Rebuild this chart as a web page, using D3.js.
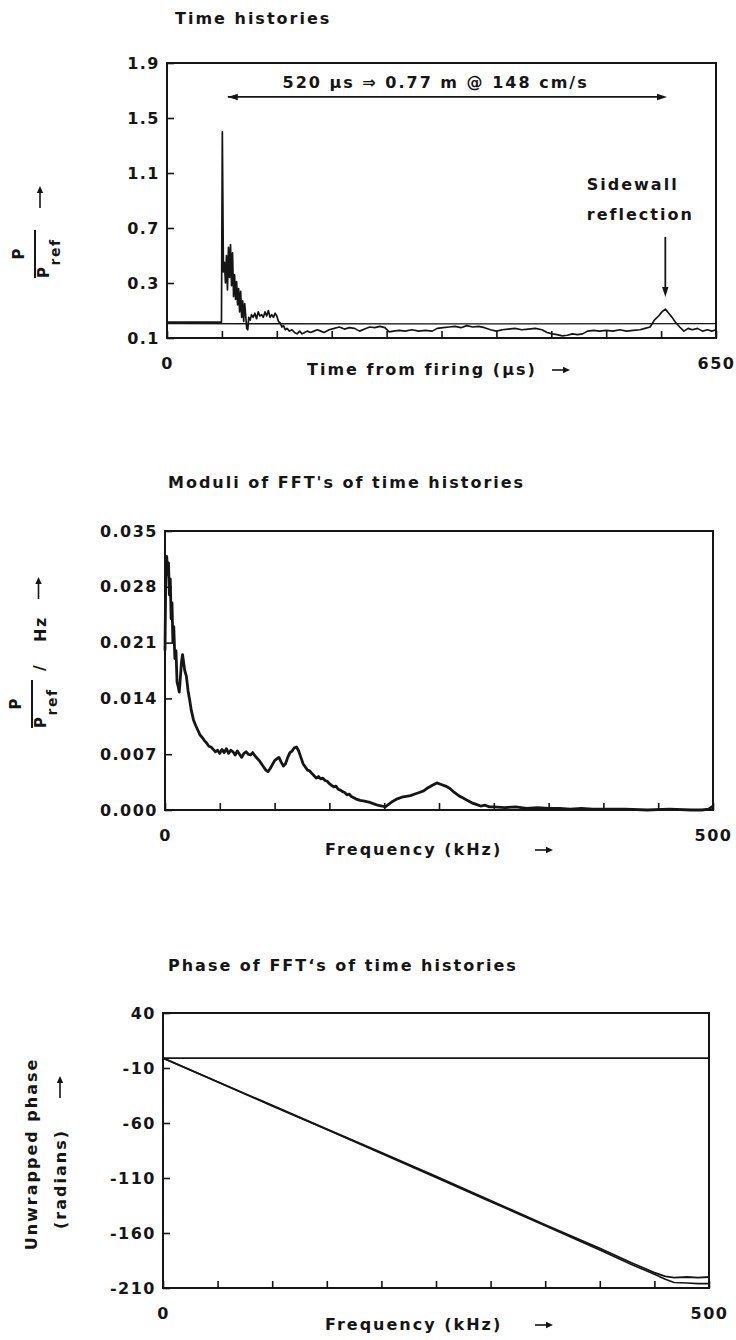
<!DOCTYPE html>
<html>
<head>
<meta charset="utf-8">
<script src="https://cdn.jsdelivr.net/npm/d3@7"></script>
<style>
  body { margin: 0; background: #fff; }
  svg text { font-family: "DejaVu Sans", sans-serif; font-weight: bold; fill: #151515; }
</style>
</head>
<body>
<svg id="chart" width="736" height="1340"></svg>
<script>
// ---- data ----

// Time histories (µs vs p/pref); bottom tick is printed "0.1" in the original
const timeTicks = [0, 65, 130, 195, 260, 325, 390, 455, 520, 585, 650];
const timeTickLabels = ["0", "", "", "", "", "", "", "", "", "", "650"];
const ratioTicks = [-0.1, 0.3, 0.7, 1.1, 1.5, 1.9];
const ratioTickLabels = ["0.1", "0.3", "0.7", "1.1", "1.5", "1.9"];

const timeA = [0, 64.5, 65.5, 66.8, 68, 69.2, 70.4, 71.6, 72.8, 74, 75.2, 76.4, 77.6, 78.8, 80, 81.2,
  82.4, 83.6, 84.8, 86, 87.2, 88.4, 89.6, 90.8, 92, 93.2, 94.4, 95.6, 96.8, 98.5, 100, 102, 104, 106,
  108, 110, 112, 114, 116, 118, 120, 122, 124, 126, 128, 130, 132, 134, 136, 138, 140, 142, 145, 148,
  151, 154, 157, 160, 163, 166, 170, 174, 178, 182, 186, 192, 198, 204, 210, 216, 222, 228, 234, 240,
  246, 252, 258, 263, 268, 275, 282, 290, 298, 306, 314, 320, 327, 334, 341, 348, 355, 362, 369, 376,
  383, 390, 397, 404, 412, 420, 428, 436, 444, 450, 456, 462, 468, 474, 480, 486, 492, 498, 505, 512,
  520, 528, 536, 544, 552, 560, 566, 572, 577, 582, 586, 590, 594, 598, 602, 607, 612, 617, 622, 628,
  634, 640, 645, 650];
const ratioA = [0.016, 0.016, 1.40, 0.38, 0.45, 0.30, 0.50, 0.25, 0.56, 0.34, 0.58, 0.28, 0.52, 0.20, 0.36, 0.18,
  0.31, 0.14, 0.26, 0.09, 0.24, 0.05, 0.17, 0.02, 0.15, 0.06, -0.03, -0.04, 0.05, 0.03, 0.07, 0.05, 0.08, 0.04,
  0.09, 0.06, 0.07, 0.05, 0.09, 0.06, 0.10, 0.05, 0.07, 0.05, 0.08, 0.06, 0.02, 0.01, -0.02, -0.01, -0.04, -0.03, -0.05, -0.04,
  -0.06, -0.07, -0.05, -0.07, -0.06, -0.05, -0.06, -0.05, -0.04, -0.05, -0.06, -0.04, -0.03, -0.02, -0.035, -0.025, -0.03, -0.05, -0.035, -0.02,
  -0.025, -0.015, -0.025, -0.055, -0.05, -0.045, -0.05, -0.04, -0.05, -0.045, -0.05, -0.03, -0.025, -0.02, -0.015, -0.025, -0.01, -0.02, -0.015, -0.025,
  -0.04, -0.05, -0.04, -0.035, -0.03, -0.04, -0.035, -0.03, -0.04, -0.06, -0.07, -0.075, -0.085, -0.08, -0.07, -0.075, -0.07, -0.05, -0.045, -0.05,
  -0.045, -0.05, -0.04, -0.05, -0.045, -0.04, -0.03, -0.02, 0.03, 0.06, 0.09, 0.11, 0.08, 0.05, 0.015, -0.02, -0.05, -0.03, -0.04, -0.03,
  -0.05, -0.04, -0.05, -0.04];
const timeB = [0, 325, 650];
const ratioB = [0.004, 0.003, 0.004];

// Moduli of FFTs (kHz vs p/pref/Hz)
const freqTicks = [0, 50, 100, 150, 200, 250, 300, 350, 400, 450, 500];
const freqTickLabels = ["0", "", "", "", "", "", "", "", "", "", "500"];
const modTicks = [0, 0.007, 0.014, 0.021, 0.028, 0.035];
const modTickLabels = ["0.000", "0.007", "0.014", "0.021", "0.028", "0.035"];

const freqMod = [0, 0.8, 1.6, 2.4, 3.2, 4, 4.8, 5.6, 6.4, 7.2, 8, 9, 10, 11, 12, 13, 14, 15, 16, 17, 18, 19.5,
  21, 22.5, 24, 26, 28, 30, 32, 34, 36, 38, 40, 42, 44, 46, 48, 50, 52, 54, 56, 58, 60, 62, 64, 66, 68,
  70, 72, 74, 76, 78, 80, 82, 84, 86, 88, 90, 92, 94, 96, 98, 100, 102, 104, 106, 108, 110, 112, 114,
  116, 118, 120, 122, 124, 126, 128, 130, 132, 134, 136, 138, 140, 142, 144, 146, 148, 150, 152, 154,
  156, 158, 160, 162, 164, 166, 168, 170, 174, 178, 182, 186, 190, 194, 198, 201, 204, 208, 212, 216,
  220, 224, 228, 232, 236, 240, 244, 248, 252, 256, 260, 264, 268, 272, 276, 280, 284, 288, 292, 296,
  300, 310, 320, 330, 340, 350, 360, 370, 380, 390, 400, 420, 440, 460, 480, 490, 496, 500];
const modulus = [0.020, 0.0305, 0.0318, 0.0295, 0.031, 0.027, 0.029, 0.024, 0.026, 0.021, 0.023, 0.019, 0.020,
  0.016, 0.0155, 0.0148, 0.0165, 0.0185, 0.0195, 0.0185, 0.0175, 0.0168,
  0.0150, 0.0138, 0.0125, 0.0113, 0.0106, 0.0100, 0.0094, 0.0091, 0.0087, 0.0084, 0.0080, 0.0079, 0.0076, 0.0073,
  0.0075, 0.0071, 0.0076, 0.0072, 0.0077, 0.0071, 0.0075, 0.0073, 0.0069, 0.0074, 0.0070,
  0.0066, 0.0071, 0.0073, 0.0070, 0.0069, 0.0072, 0.0068, 0.0065, 0.0062, 0.0058, 0.0054, 0.0050, 0.0048, 0.0052,
  0.0057, 0.0062, 0.0064, 0.0066, 0.0060, 0.0055, 0.0058, 0.0066, 0.0072,
  0.0074, 0.0078, 0.0079, 0.0074, 0.0066, 0.0058, 0.0054, 0.0050, 0.0049, 0.0046, 0.0043, 0.0040, 0.0042, 0.0039,
  0.0040, 0.0037, 0.0036, 0.0033, 0.0031, 0.0029,
  0.0030, 0.0026, 0.0025, 0.0023, 0.0022, 0.0019, 0.0020, 0.0017, 0.0014, 0.0012, 0.0011, 0.0010, 0.0008, 0.0006,
  0.0005, 0.0004, 0.0007, 0.0011, 0.0014, 0.0016,
  0.0017, 0.0018, 0.0020, 0.0022, 0.0024, 0.0028, 0.0031, 0.0034, 0.0032, 0.0030, 0.0027, 0.0022, 0.0018, 0.0015,
  0.0012, 0.0009, 0.0007, 0.0005, 0.0006, 0.0004,
  0.0004, 0.0003, 0.0004, 0.0002, 0.0003, 0.0002, 0.0002, 0.0001, 0.0002, 0.0001, 0.0001, 0.0001, 0.0000, 0.0001,
  0.0000, 0.0000, 0.0001, 0.0005];

// Phase of FFTs (kHz vs radians)
const phaseTicks = [-210, -160, -110, -60, -10, 40];
const phaseTickLabels = ["-210", "-160", "-110", "-60", "-10", "40"];
const freqPhase = [0, 50, 100, 150, 200, 250, 300, 350, 400, 430, 450, 460, 468, 480, 490, 500];
const phaseA = [-1, -22.5, -44, -65.5, -87, -108.5, -130.5, -152.5, -174, -187.5, -196, -199.5, -200.5, -200, -200.5, -200];
const phaseB = [-1, -22.8, -44.5, -66, -87.8, -109.5, -131.5, -153.5, -175.5, -189, -197.5, -202, -205, -205.5, -206, -206];
const freqFlat = [0, 500];
const phaseFlat = [-1, -1];

// ---- drawing ----
const INK = "#151515";
const svg = d3.select("#chart");

function drawPanel(p) {
  const x = d3.scaleLinear().domain(p.xDomain).range([p.left, p.right]);
  const y = d3.scaleLinear().domain(p.yDomain).range([p.bottom, p.top]);
  const g = svg.append("g");

  const xAxis = g.append("g")
    .attr("transform", `translate(0,${p.bottom})`)
    .call(d3.axisBottom(x).tickValues(p.xTicks).tickFormat((d, i) => p.xLabels[i])
      .tickSizeInner(-7).tickSizeOuter(0).tickPadding(20));
  const yAxis = g.append("g")
    .attr("transform", `translate(${p.left},0)`)
    .call(d3.axisLeft(y).tickValues(p.yTicks).tickFormat((d, i) => p.yLabels[i])
      .tickSizeInner(-7).tickSizeOuter(0).tickPadding(7));

  [xAxis, yAxis].forEach(a => {
    a.select(".domain").remove();
    a.selectAll(".tick line").attr("stroke", INK).attr("stroke-width", 1.6);
    a.selectAll(".tick text").style("font-size", "16px").attr("letter-spacing", 1.5);
  });

  g.append("rect")
    .attr("x", p.left).attr("y", p.top)
    .attr("width", p.right - p.left).attr("height", p.bottom - p.top)
    .attr("fill", "none").attr("stroke", INK).attr("stroke-width", 2);

  g.append("text").attr("x", p.titleX).attr("y", p.titleY)
    .style("font-size", "16px").attr("letter-spacing", 2).text(p.title);

  // x label with trailing arrow
  g.append("text").attr("x", p.xLabelX).attr("y", p.xLabelY)
    .style("font-size", "16px").attr("letter-spacing", 2).text(p.xLabel);
  arrow(g, p.arrowX, p.xLabelY - 5, p.arrowX + 18, p.xLabelY - 5, false, 7, 3.2, 1.6);

  return { x, y, g };
}

function head(g, tx, ty, dx, dy, len, half) {
  const px = -dy, py = dx;
  g.append("polygon")
    .attr("points", [
      [tx, ty],
      [tx - dx * len + px * half, ty - dy * len + py * half],
      [tx - dx * len - px * half, ty - dy * len - py * half]
    ].map(d => d.join(",")).join(" "))
    .attr("fill", INK);
}

function arrow(g, x1, y1, x2, y2, both, len, half, w) {
  const L = Math.hypot(x2 - x1, y2 - y1);
  const dx = (x2 - x1) / L, dy = (y2 - y1) / L;
  g.append("line").attr("x1", x1).attr("y1", y1).attr("x2", x2 - dx * len * 0.6).attr("y2", y2 - dy * len * 0.6)
    .attr("stroke", INK).attr("stroke-width", w);
  head(g, x2, y2, dx, dy, len, half);
  if (both) head(g, x1, y1, -dx, -dy, len, half);
}

function drawLine(panel, xs, ys, width) {
  const pts = d3.zip(xs, ys);
  panel.g.append("path")
    .attr("d", d3.line().x(d => panel.x(d[0])).y(d => panel.y(d[1]))(pts))
    .attr("fill", "none").attr("stroke", INK)
    .attr("stroke-width", width).attr("stroke-linejoin", "round");
}

// fraction label p / p_ref, rotated
function fraction(g, cx, cy) {
  const f = g.append("g").attr("transform", `translate(${cx},${cy}) rotate(-90)`);
  f.append("line").attr("x1", -24).attr("x2", 24).attr("y1", 0).attr("y2", 0)
    .attr("stroke", INK).attr("stroke-width", 2);
  f.append("text").attr("x", 0).attr("y", -11).attr("text-anchor", "middle")
    .style("font-size", "15px").text("P");
  const den = f.append("text").attr("x", -24).attr("y", 14).style("font-size", "15px").attr("letter-spacing", 1.5);
  den.append("tspan").text("P");
  den.append("tspan").attr("dy", 11).style("font-size", "14px").text("ref");
  return f;
}

// ---- panel 1: time histories ----
const p1 = drawPanel({
  left: 167, right: 716, top: 63, bottom: 338,
  xDomain: [0, 650], yDomain: [-0.1, 1.9],
  xTicks: timeTicks, xLabels: timeTickLabels, yTicks: ratioTicks, yLabels: ratioTickLabels,
  title: "Time histories", titleX: 175, titleY: 24,
  xLabel: "Time from firing (µs)", xLabelX: 307, xLabelY: 375, arrowX: 552
});
drawLine(p1, timeB, ratioB, 1.3);
drawLine(p1, timeA, ratioA, 1.7);

// span annotation
arrow(p1.g, p1.x(72), p1.y(1.653), p1.x(592), p1.y(1.653), true, 10, 3.2, 1.8);
p1.g.append("text").attr("x", p1.x(318)).attr("y", p1.y(1.72)).attr("text-anchor", "middle")
  .style("font-size", "16px").attr("letter-spacing", 2).text("520 µs ⇒ 0.77 m @ 148 cm/s");
p1.g.append("text").attr("x", p1.x(497)).attr("y", p1.y(0.976))
  .style("font-size", "16px").attr("letter-spacing", 2).text("Sidewall");
p1.g.append("text").attr("x", p1.x(497)).attr("y", p1.y(0.758))
  .style("font-size", "16px").attr("letter-spacing", 2).text("reflection");
arrow(p1.g, p1.x(590), p1.y(0.635), p1.x(590), p1.y(0.198), false, 10, 3.2, 1.8);

const yl1 = fraction(svg, 35, 254);
arrow(svg, 40, 208, 40, 186, false, 7, 3.2, 1.6);

// ---- panel 2: moduli ----
const p2 = drawPanel({
  left: 165, right: 713, top: 531, bottom: 810,
  xDomain: [0, 500], yDomain: [0, 0.035],
  xTicks: freqTicks, xLabels: freqTickLabels, yTicks: modTicks, yLabels: modTickLabels,
  title: "Moduli of FFT's of time histories", titleX: 168, titleY: 488,
  xLabel: "Frequency (kHz)", xLabelX: 325, xLabelY: 855, arrowX: 535
});
drawLine(p2, freqMod, modulus, 2.8);

const yl2 = fraction(svg, 32, 704);
yl2.append("text").attr("x", 33).attr("y", 13).style("font-size", "16px").text("/");
yl2.append("text").attr("x", 62).attr("y", 14).style("font-size", "16px").attr("letter-spacing", 1.5).text("Hz");
arrow(svg, 38.5, 599, 38.5, 577, false, 7, 3.2, 1.6);

// ---- panel 3: phase ----
const p3 = drawPanel({
  left: 163, right: 709, top: 1013, bottom: 1288,
  xDomain: [0, 500], yDomain: [-210, 40],
  xTicks: freqTicks, xLabels: freqTickLabels, yTicks: phaseTicks, yLabels: phaseTickLabels,
  title: "Phase of FFT‘s of time histories", titleX: 168, titleY: 971,
  xLabel: "Frequency (kHz)", xLabelX: 325, xLabelY: 1330, arrowX: 535
});
drawLine(p3, freqFlat, phaseFlat, 1.6);
drawLine(p3, freqPhase, phaseA, 1.8);
drawLine(p3, freqPhase, phaseB, 1.6);

svg.append("text").attr("transform", "translate(37,1154) rotate(-90)").attr("text-anchor", "middle")
  .style("font-size", "16px").attr("letter-spacing", 2).text("Unwrapped phase");
svg.append("text").attr("transform", "translate(66,1179) rotate(-90)").attr("text-anchor", "middle")
  .style("font-size", "16px").attr("letter-spacing", 2).text("(radians)");
arrow(svg, 60, 1098, 60, 1076, false, 7, 3.2, 1.6);
</script>
</body>
</html>
